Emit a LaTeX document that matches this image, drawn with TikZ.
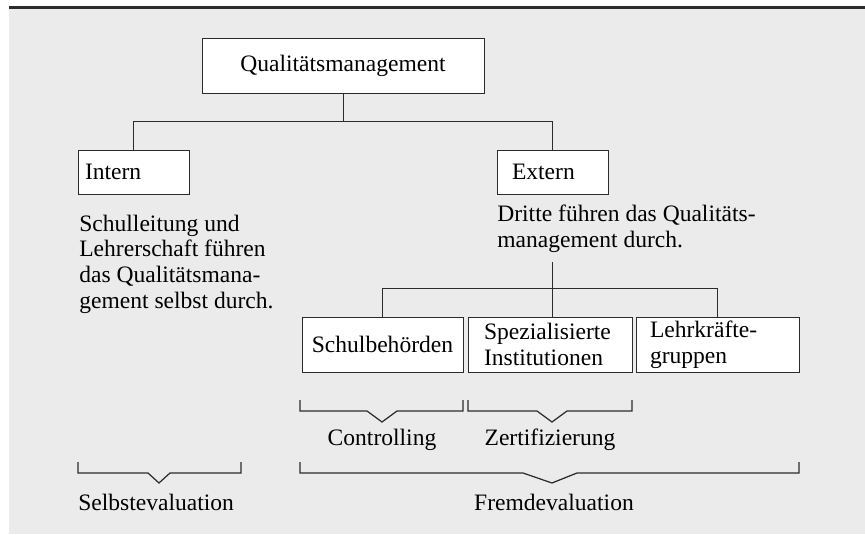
\documentclass[tikz,border=0pt]{standalone}
\usepackage{fontspec}
\setmainfont{Liberation Serif}
\usetikzlibrary{positioning,calc}
\definecolor{paper}{HTML}{EBEBEB}
\definecolor{ink}{HTML}{2B2B2B}

\begin{document}
\begin{tikzpicture}[x=0.02cm, y=-0.02cm, font=\fontsize{13.4}{14.6}\selectfont,
		box/.style={draw=ink, fill=white, line width=0.5pt, minimum height=1.1cm, inner ysep=0pt},
		wire/.style={draw=ink, line width=0.5pt},
		brace/.style={draw=ink, line width=0.7pt, line join=miter},
		tag/.style={anchor=base, inner sep=0pt}]
		\useasboundingbox (0,0) rectangle (865,534);
		\fill[paper] (9,8) rectangle (865,534);
		\draw[ink, line width=1.2pt] (9,7.5) -- (865,7.5);

		\node[box, minimum width=5.64cm] (qm) at (343,65.5) {Qualitätsmanagement};
		\node[box, minimum height=0.88cm, text width=1.94cm, inner xsep=0.14cm, align=left] (intern) at (133.5,172) {Intern};
		\node[box, minimum height=0.88cm, text width=1.62cm, inner xsep=0.3cm, align=left] (extern) at (552.5,172) {Extern};
		\draw[wire] (qm.south) -- ++(0,28) coordinate (split);
		\draw[wire] (intern.north) |- (split) -| (extern.north);

		\node[anchor=base west, align=left, inner sep=0pt] (intdesc) at (79,308) {Schulleitung und\\Lehrerschaft führen\\das Qualitätsmana-\\gement selbst durch.};
		\node[anchor=base west, align=left, inner sep=0pt] (extdesc) at (497,247) {Dritte führen das Qualitäts-\\management durch.};

		\node[box, minimum width=3.22cm, align=center] (schul) at (382.5,344.5) {Schulbehörden};
		\node[box, text width=2.64cm, inner xsep=0.32cm, align=left] (spez) at (550,344.5) {Spezialisierte\\Institutionen};
		\node[box, text width=2.7cm, inner xsep=0.28cm, align=left] (lehr) at (717.5,344.5) {Lehrkräfte-\\gruppen};
		\coordinate (hub) at ($(extdesc.south -| extern.south)+(0,10)$);
		\draw[wire] (hub) -- (hub |- spez.north);
		\draw[wire] (schul.north) -- ++(0,-28) -| (lehr.north);

		\draw[brace] (300,400) -- (300,411) -- (367,411) -- (382,422) -- (397,411) -- (463,411) -- (463,400);
		\draw[brace] (468,400) -- (468,411) -- (537,411) -- (552,422) -- (567,411) -- (632,411) -- (632,400);
		\node[tag] (ctrl) at (382,445) {Controlling};
		\node[tag] (zert) at (550,445) {Zertifizierung};

		\draw[brace] (78,462) -- (78,473) -- (148,473) -- (159,483) -- (170,473) -- (241,473) -- (241,462);
		\draw[brace] (300,462) -- (300,473) -- (523,473) -- (552,483) -- (577,473) -- (799,473) -- (799,462);
		\node[tag, anchor=base west] (selbst) at (78,510) {Selbstevaluation};
		\node[tag] (fremd) at (554,510) {Fremdevaluation};
	\end{tikzpicture}
\end{document}
